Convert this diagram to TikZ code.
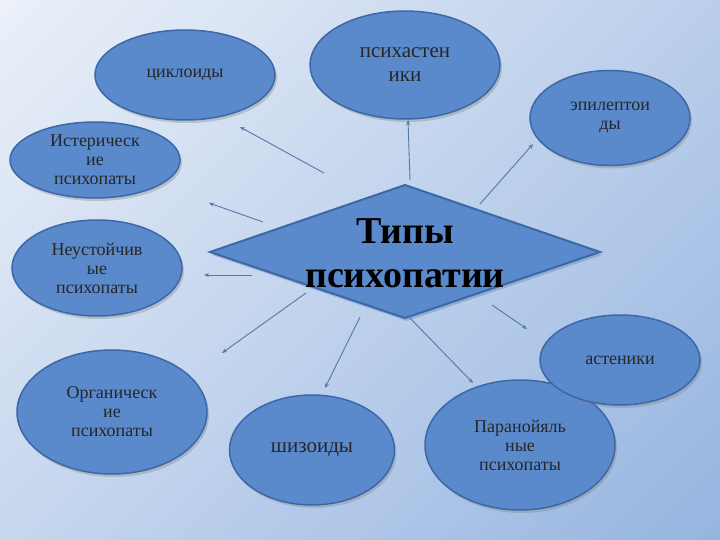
\documentclass[tikz,border=0pt]{standalone}
\usepackage{fontspec}
\setmainfont{Liberation Serif}
\usetikzlibrary{shadows,arrows.meta,shapes.geometric,calc}
\definecolor{bgA}{HTML}{F2F5FB}
\definecolor{bgB}{HTML}{8FB0DE}
\definecolor{ellF}{HTML}{5A8ACB}
\definecolor{ellD}{HTML}{3C68A6}
\definecolor{arr}{HTML}{5577AA}
\begin{document}
\begin{tikzpicture}[x=1pt,y=-1pt,
  ell/.style={ellipse,draw=ellD,line width=1.5pt,fill=ellF,drop shadow={opacity=0.35,shadow xshift=2pt,shadow yshift=-3pt},font=\fontsize{18}{19}\selectfont,text=black!85,align=center,inner sep=0pt},
  big/.style={font=\fontsize{21}{24}\selectfont},
  arw/.style={draw=arr,line width=0.9pt,-{Stealth[length=5pt,width=4pt]}}]
\useasboundingbox (0,0) rectangle (720,540);
\shade[top color=bgA,bottom color=bgB,shading angle=45] (-200,-200) rectangle (920,740);
\node[ell,minimum width=180pt,minimum height=90pt] (c1) at (185,75) {циклоиды};
\node[ell,big,minimum width=190pt,minimum height=108pt] (c2) at (405,65) {психастен\\ики};
\node[ell,minimum width=160pt,minimum height=95pt] (c3) at (610,118) {эпилептои\\ды};
\node[ell,minimum width=170pt,minimum height=76pt] (c4) at (95,160) {Истерическ\\ие\\психопаты};
\node[ell,minimum width=170pt,minimum height=96pt] (c5) at (97,268) {Неустойчив\\ые\\психопаты};
\node[ell,minimum width=190pt,minimum height=124pt] (c6) at (112,412) {Органическ\\ие\\психопаты};
\node[ell,big,minimum width=165pt,minimum height=110pt] (c7) at (312,450) {шизоиды};
\node[ell,minimum width=190pt,minimum height=130pt] (c8) at (520,445) {Паранойяль\\ные\\психопаты};
\node[ell,minimum width=160pt,minimum height=90pt] (c9) at (620,360) {астеники};
\coordinate (L) at (210,252); \coordinate (T) at (405,185);
\coordinate (R) at (600,252); \coordinate (B) at (405,318);
\fill[ellD,opacity=0.3] ($(L)+(2,3)$) -- ($(T)+(2,3)$) -- ($(R)+(2,3)$) -- ($(B)+(2,3)$) -- cycle;
\draw[draw=ellD,line width=2pt,fill=ellF,line join=miter] (L) -- (T) -- (R) -- (B) -- cycle;
\node[font=\bfseries\fontsize{38}{44}\selectfont,align=center,text=black] (d) at (405,253) {Типы\\психопатии};
\foreach \a/\b/\c/\d/\n in {324/173/240/127/1,410/180/408/120/2,480/204/533/144/3,263/222/209/203/4,252/275/204/275/5,306/293/222/353/6,360/317/325/388/7,410/318/473/383/8,492/305/527/329/9}{
  \coordinate (s\n) at (\a,\b); \coordinate (e\n) at (\c,\d);
  \draw[arw] (s\n) -- (e\n);
}
\end{tikzpicture}
\end{document}
